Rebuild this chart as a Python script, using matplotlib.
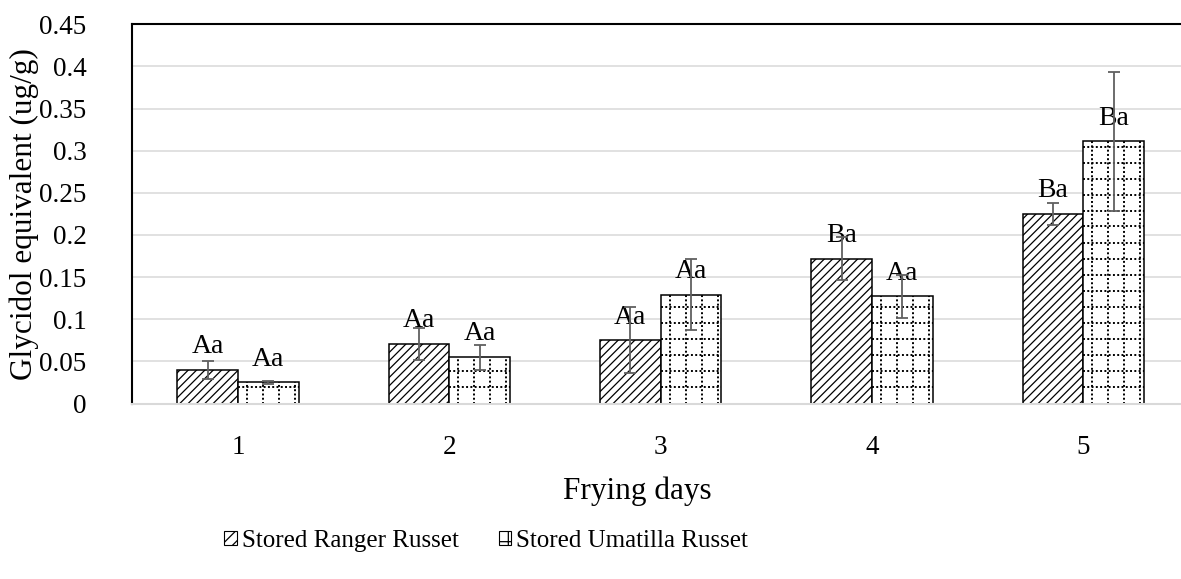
import matplotlib
matplotlib.use("Agg")
import matplotlib.pyplot as plt
from matplotlib.patches import Patch
import numpy as np

days = ["1", "2", "3", "4", "5"]
ranger = [0.040, 0.071, 0.075, 0.172, 0.225]
ranger_err = [0.011, 0.019, 0.039, 0.025, 0.013]
umatilla = [0.025, 0.055, 0.129, 0.127, 0.311]
umatilla_err = [0.002, 0.015, 0.042, 0.025, 0.082]
ranger_lbl = ["Aa", "Aa", "Aa", "Ba", "Ba"]
umatilla_lbl = ["Aa", "Aa", "Aa", "Aa", "Ba"]
yticks = [0, 0.05, 0.1, 0.15, 0.2, 0.25, 0.3, 0.35, 0.4, 0.45]
ytick_labels = ["0", "0.05", "0.1", "0.15", "0.2", "0.25", "0.3", "0.35", "0.4", "0.45"]

plt.rcParams["font.family"] = ["Liberation Serif", "DejaVu Serif"]
plt.rcParams["hatch.linewidth"] = 0.9
FS_TICK = 19.5
FS_LBL = 20
FS_TITLE = 22.5
FS_LEG = 18

W, H = 1181, 579
fig = plt.figure(figsize=(W / 100, H / 100), dpi=100)
ax_left, ax_right = 132.3, 1189.0
ax_top, ax_bot = 24.3, 403.5
ax = fig.add_axes([ax_left / W, 1 - ax_bot / H, (ax_right - ax_left) / W, (ax_bot - ax_top) / H])

x = np.arange(len(days))
bw = 0.2877
ax.set_xlim(-0.5, len(days) - 0.5)
ax.set_ylim(0, 0.45)

b1 = ax.bar(x - bw / 2, ranger, bw, facecolor="white", edgecolor="black",
            linewidth=1.1, hatch="////", zorder=2)
b2 = ax.bar(x + bw / 2, umatilla, bw, facecolor="white", edgecolor="black",
            linewidth=1.1, zorder=2)

# dotted grid pattern inside Umatilla bars
tr = ax.transData
inv = tr.inverted()
for p in b2.patches:
    (px0, py0) = tr.transform((p.get_x(), 0))
    (px1, py1) = tr.transform((p.get_x() + p.get_width(), p.get_height()))
    xs = px0 + 9
    while xs < px1 - 1:
        a = inv.transform([(xs, py0), (xs, py1)])
        ln, = ax.plot(a[:, 0], a[:, 1], color="black", lw=1.4, ls=(0, (1, 1.2)), zorder=2.5)
        ln.set_clip_path(p)
        xs += 16
    ys = py0 + 17
    while ys < py1 - 2:
        a = inv.transform([(px0, ys), (px1, ys)])
        ln, = ax.plot(a[:, 0], a[:, 1], color="black", lw=1.4, ls=(0, (1, 1.2)), zorder=2.5)
        ln.set_clip_path(p)
        ys += 16

ax.errorbar(x - bw / 2, ranger, yerr=ranger_err, fmt="none", ecolor="#606060",
            elinewidth=1.3, capsize=4, capthick=1.3, zorder=5)
ax.errorbar(x + bw / 2, umatilla, yerr=umatilla_err, fmt="none", ecolor="#606060",
            elinewidth=1.3, capsize=4, capthick=1.3, zorder=5)

for xi, v, t in zip(x - bw / 2, ranger, ranger_lbl):
    ax.annotate(t, (xi, v), xytext=(0, 12), textcoords="offset points",
                ha="center", va="baseline", fontsize=FS_LBL, zorder=4)
for xi, v, t in zip(x + bw / 2, umatilla, umatilla_lbl):
    ax.annotate(t, (xi, v), xytext=(0, 12), textcoords="offset points",
                ha="center", va="baseline", fontsize=FS_LBL, zorder=4)

ax.set_yticks(yticks)
ax.set_yticklabels(ytick_labels, fontsize=FS_TICK)
ax.set_xticks(x)
ax.set_xticklabels(days, fontsize=FS_TICK)
ax.tick_params(axis="y", length=0, pad=33)
ax.tick_params(axis="x", length=0, pad=23)
ax.grid(axis="y", color="#d9d9d9", linewidth=1.1, zorder=0)
ax.set_axisbelow(True)

ax.spines["right"].set_visible(False)
ax.spines["top"].set_color("black")
ax.spines["top"].set_linewidth(1.5)
ax.spines["left"].set_color("black")
ax.spines["left"].set_linewidth(1.5)
ax.spines["bottom"].set_color("#d9d9d9")
ax.spines["bottom"].set_linewidth(1.5)

ax.set_ylabel("Glycidol equivalent (ug/g)", fontsize=FS_TITLE)
ax.yaxis.set_label_coords((39 - ax_left) / (ax_right - ax_left), 0.5)
ax.set_xlabel("Frying days", fontsize=FS_TITLE)
ax.xaxis.set_label_coords((637 - ax_left) / (ax_right - ax_left), (ax_bot - 477) / (ax_bot - ax_top))

handles = [Patch(facecolor="white", edgecolor="black", hatch="///", linewidth=0.8),
           Patch(facecolor="white", edgecolor="black", hatch="+", linewidth=0.8)]
fig.legend(handles, ["Stored Ranger Russet", "Stored Umatilla Russet"], loc="center",
           bbox_to_anchor=(486 / W, 1 - 541 / H), ncol=2, frameon=False, fontsize=FS_LEG,
           handlelength=0.5, handleheight=0.5, handletextpad=0.2, columnspacing=1.6)

fig.savefig("out.png", dpi=100)
